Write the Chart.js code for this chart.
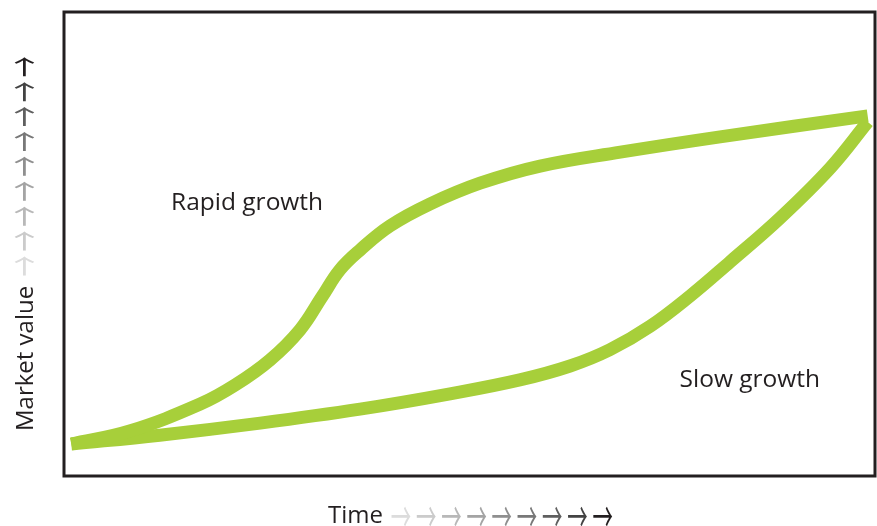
<!DOCTYPE html>
<html>
<head>
<meta charset="utf-8">
<script src="https://cdn.jsdelivr.net/npm/chart.js@4"></script>
<style>
  html, body { margin: 0; padding: 0; background: #fff; }
  #wrap { width: 877px; height: 526px; }
</style>
</head>
<body>
<div id="wrap"><canvas id="growth" width="877" height="526"></canvas></div>
<script>
var ctx = document.getElementById('growth').getContext('2d');

/* curves, time and value both on a 0-100 scale */
const rapidTime  = [0.9, 8.1, 16.8, 21.1, 25.4, 29.1, 31.8, 34.0, 36.5, 40.2, 45.1, 51.3, 58.7, 68.6, 80.9, 99.1];
const rapidValue = [6.9, 9.7, 15.5, 19.6, 25.0, 31.5, 38.6, 44.4, 48.7, 53.9, 58.6, 63.1, 66.8, 69.8, 73.1, 77.6];
const slowTime   = [0.9, 11.8, 24.2, 36.5, 47.6, 56.2, 62.4, 67.3, 72.3, 77.2, 82.1, 88.3, 94.5, 99.1];
const slowValue  = [6.9, 8.8, 11.4, 14.4, 17.7, 20.7, 23.7, 27.2, 32.3, 38.8, 46.1, 55.6, 66.4, 76.3];

const seriesNames = ['Rapid growth', 'Slow growth'];
const xTitle = 'Time';
const yTitle = 'Market value';
const arrowShades = ['#dcdcdc', '#cbcbcb', '#b8b8b8', '#a4a4a4', '#8f8f8f', '#787878', '#5f5f5f', '#434343', '#231f20'];

const ink = '#231f20';
const green = '#a7cf3a';

function pts(xs, ys) {
    return xs.map(function (x, i) { return { x: x, y: ys[i] }; });
}

function arrow(c, x, y, col) {
    c.save();
    c.translate(x, y);
    c.scale(0.85, 1.7);
    c.fillStyle = col;
    c.fillText('\u2192', 0, 0);
    c.restore();
}

// frame, curve labels and the arrowed axis titles
const decorations = {
    id: 'decorations',
    afterDraw: function (chart) {
        const c = chart.ctx;
        const a = chart.chartArea;
        const xs = chart.scales.x, ys = chart.scales.y;
        c.save();

        c.strokeStyle = ink;
        c.lineWidth = 3;
        c.strokeRect(a.left, a.top, a.right - a.left, a.bottom - a.top);

        c.fillStyle = ink;
        c.font = '24.5px "Open Sans"';
        c.textAlign = 'left';
        c.textBaseline = 'alphabetic';
        c.fillText(seriesNames[0], xs.getPixelForValue(13.2), ys.getPixelForValue(57.3));
        c.fillText(seriesNames[1], xs.getPixelForValue(75.9), ys.getPixelForValue(19.2));

        // x title
        c.font = '24px "Open Sans"';
        c.fillText(xTitle, 328, 523);
        c.font = '24px "Noto Sans CJK JP"';
        c.textAlign = 'center';
        c.textBaseline = 'middle';
        arrowShades.forEach(function (col, i) {
            arrow(c, 401 + i * 25.2, 516, col);
        });

        // y title, rotated
        c.translate(33, 431);
        c.rotate(-Math.PI / 2);
        c.fillStyle = ink;
        c.font = '24px "Open Sans"';
        c.textAlign = 'left';
        c.textBaseline = 'alphabetic';
        c.fillText(yTitle, 0, 0);
        c.font = '24px "Noto Sans CJK JP"';
        c.textAlign = 'center';
        c.textBaseline = 'middle';
        arrowShades.forEach(function (col, i) {
            arrow(c, 165 + i * 24.9, -9, col);
        });

        c.restore();
    }
};

var myChart = new Chart(ctx, {
    type: 'line',
    data: {
        datasets: [{
            label: seriesNames[0],
            data: pts(rapidTime, rapidValue),
            borderColor: green,
            borderWidth: 13,
            pointRadius: 0,
            tension: 0.4
        }, {
            label: seriesNames[1],
            data: pts(slowTime, slowValue),
            borderColor: green,
            borderWidth: 13,
            pointRadius: 0,
            tension: 0.4
        }]
    },
    options: {
        responsive: false,
        animation: false,
        devicePixelRatio: 1,
        layout: { padding: { left: 64, right: 2, top: 12, bottom: 50 } },
        plugins: {
            legend: { display: false },
            tooltip: { enabled: false }
        },
        scales: {
            x: { type: 'linear', min: 0, max: 100, display: false },
            y: { min: 0, max: 100, display: false }
        }
    },
    plugins: [decorations]
});
</script>
</body>
</html>
